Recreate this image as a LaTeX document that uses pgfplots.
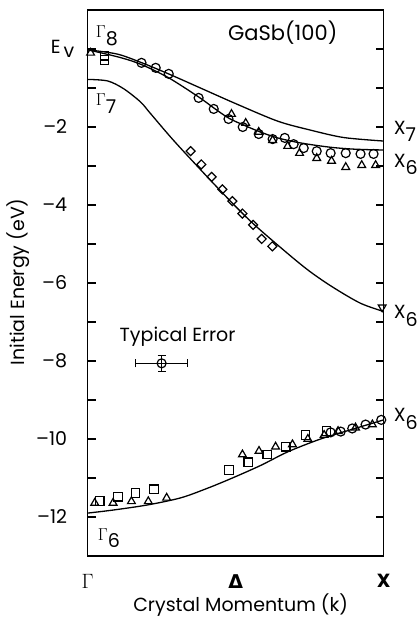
\documentclass[border=0pt]{standalone}
\usepackage{fontspec}
\setmainfont{Poppins}
\newfontfamily\dejavu{DejaVu Sans}
\usepackage{pgfplots}
\usetikzlibrary{calc}
\pgfplotsset{compat=1.18}
\begin{document}
\fontsize{19}{22}\selectfont
\begin{tikzpicture}
\begin{axis}[
  scale only axis, width=296pt, height=546pt,
  xmin=0, xmax=1, ymin=-13, ymax=1,
  clip=false,
  axis line style={line width=1.2pt},
  xtick={0,0.5,1},
  xticklabels={{\fontsize{22}{24}\selectfont$\Gamma$},{\dejavu\bfseries Δ},{$\mathbf{X}$}},
  major x tick style={draw=none},
  xticklabel style={yshift=-12pt},
  ytick={-12,-10,...,0},
  yticklabels={\textendash12,\textendash10,\textendash8,\textendash6,\textendash4,\textendash2,{}},
  minor ytick={-11,-9,...,-1},
  ytick pos=both, yticklabel pos=left,
  tick align=inside,
  major tick length=8pt, minor tick length=8pt,
  every tick/.style={black, line width=1.2pt},
  yticklabel style={xshift=-14pt},
  xlabel={Crystal Momentum (k)},
  ylabel={Initial Energy (eV)},
  xlabel style={at={(axis description cs:0.517,-0.09)}, anchor=center},
  ylabel style={at={(axis description cs:-0.236,0.502)}, anchor=center},
]
% theory curves
\addplot[black, line width=1.3pt, smooth] coordinates {
(0,-0.02)(0.1,-0.13)(0.182,-0.35)(0.274,-0.64)(0.39,-1.03)(0.5,-1.40)(0.642,-1.85)(0.753,-2.08)(0.865,-2.27)(1.0,-2.36)};
\addplot[black, line width=1.3pt, smooth] coordinates {
(0,-0.02)(0.111,-0.22)(0.182,-0.40)(0.274,-0.74)(0.375,-1.23)(0.426,-1.51)(0.476,-1.77)(0.527,-1.95)(0.584,-2.13)(0.642,-2.28)(0.72,-2.41)(0.821,-2.52)(0.905,-2.57)(1.0,-2.59)};
\addplot[black, line width=1.3pt, smooth] coordinates {
(0,-0.78)(0.068,-0.82)(0.122,-1.02)(0.179,-1.36)(0.213,-1.66)(0.297,-2.40)(0.443,-3.59)(0.551,-4.42)(0.669,-5.20)(0.75,-5.70)(0.831,-6.12)(0.922,-6.52)(1.0,-6.73)};
\addplot[black, line width=1.3pt, smooth] coordinates {
(0,-11.90)(0.088,-11.82)(0.203,-11.69)(0.314,-11.51)(0.399,-11.28)(0.483,-11.02)(0.584,-10.68)(0.676,-10.33)(0.787,-10.0)(0.899,-9.74)(1.0,-9.51)};
% circles
\addplot[only marks, mark=o, mark size=4.5pt, mark options={line width=1.2pt}] coordinates {
(0.182,-0.355)(0.230,-0.483)(0.274,-0.638)(0.375,-1.254)(0.426,-1.537)(0.476,-1.794)(0.524,-2.0)(0.578,-2.18)(0.625,-2.31)(0.666,-2.28)(0.696,-2.44)(0.730,-2.54)(0.774,-2.62)(0.821,-2.67)(0.872,-2.67)(0.922,-2.69)(0.966,-2.69)
(0.821,-9.83)(0.855,-9.81)(0.894,-9.73)(0.939,-9.63)(0.992,-9.51)};
% triangles
\addplot[only marks, mark=triangle, mark size=4.5pt, mark options={line width=1.2pt}] coordinates {
(0.01,-0.10)(0.486,-1.67)(0.534,-1.90)(0.578,-2.13)(0.625,-2.34)(0.676,-2.49)(0.716,-2.67)(0.774,-2.80)(0.824,-2.87)(0.872,-3.03)(0.926,-2.98)(0.973,-2.98)
(0.024,-11.64)(0.086,-11.64)(0.148,-11.60)(0.205,-11.60)(0.267,-11.51)(0.523,-10.40)(0.579,-10.31)(0.635,-10.20)(0.692,-10.14)(0.744,-10.0)(0.799,-9.90)(0.846,-9.80)(0.905,-9.71)(0.962,-9.63)};
% squares
\addplot[only marks, mark=square, mark size=4.3pt, mark options={line width=1.2pt}] coordinates {
(0.057,-0.17)(0.057,-0.28)
(0.041,-11.59)(0.103,-11.48)(0.162,-11.38)(0.224,-11.29)(0.477,-10.79)(0.543,-10.60)(0.607,-10.40)(0.669,-10.20)(0.736,-9.90)(0.807,-9.80)};
% diamonds
\addplot[only marks, mark=square, mark size=3.2pt, mark options={rotate=45, line width=1.2pt}] coordinates {
(0.348,-2.62)(0.384,-2.96)(0.419,-3.28)(0.455,-3.60)(0.489,-3.90)(0.523,-4.22)(0.559,-4.51)(0.588,-4.87)(0.624,-5.06)};
% down triangle
\addplot[only marks, mark=triangle, mark size=4.5pt, mark options={rotate=180, line width=1.2pt}] coordinates {(0.995,-6.62)};
% typical error
\addplot[only marks, mark=o, mark size=4.5pt, mark options={line width=1.2pt}, line width=1.2pt,
  error bars/.cd, x dir=both, y dir=both, x explicit, y explicit,
  error bar style={line width=1.2pt}, error mark options={rotate=90, mark size=4pt, line width=1.2pt}]
  coordinates {(0.25,-8.06) +- (0.088,0.2)};
% labels
\node[anchor=base west, inner sep=0pt] at (axis cs:-0.125,-0.12) {E\,\raisebox{-0.2em}{v}};
\node[anchor=base west, inner sep=0pt] at (axis cs:0.027,0.29) {$\Gamma$\raisebox{-0.4em}{8}};
\node[anchor=base west, inner sep=0pt] at (axis cs:0.027,-1.46) {$\Gamma$\raisebox{-0.4em}{7}};
\node[anchor=base west, inner sep=0pt] at (axis cs:0.034,-12.59) {$\Gamma$\raisebox{-0.4em}{6}};
\node[anchor=base west, inner sep=0pt] at (axis cs:1.034,-2.18) {X\raisebox{-0.4em}{7}};
\node[anchor=base west, inner sep=0pt] at (axis cs:1.034,-3.03) {X\raisebox{-0.4em}{6}};
\node[anchor=base west, inner sep=0pt] at (axis cs:1.034,-6.91) {X\raisebox{-0.4em}{6}};
\node[anchor=base west, inner sep=0pt] at (axis cs:1.034,-9.56) {X\raisebox{-0.4em}{6}};
\node[anchor=center, font=\fontsize{21}{24}\selectfont] at (axis cs:0.659,0.42) {GaSb(100)};
\node[anchor=center] at (axis cs:0.304,-7.37) {Typical Error};
\path (rel axis cs:0,0) ++(-87pt,-67pt) rectangle ($(rel axis cs:1,1)+(34pt,10pt)$);
\end{axis}
\end{tikzpicture}
\end{document}
